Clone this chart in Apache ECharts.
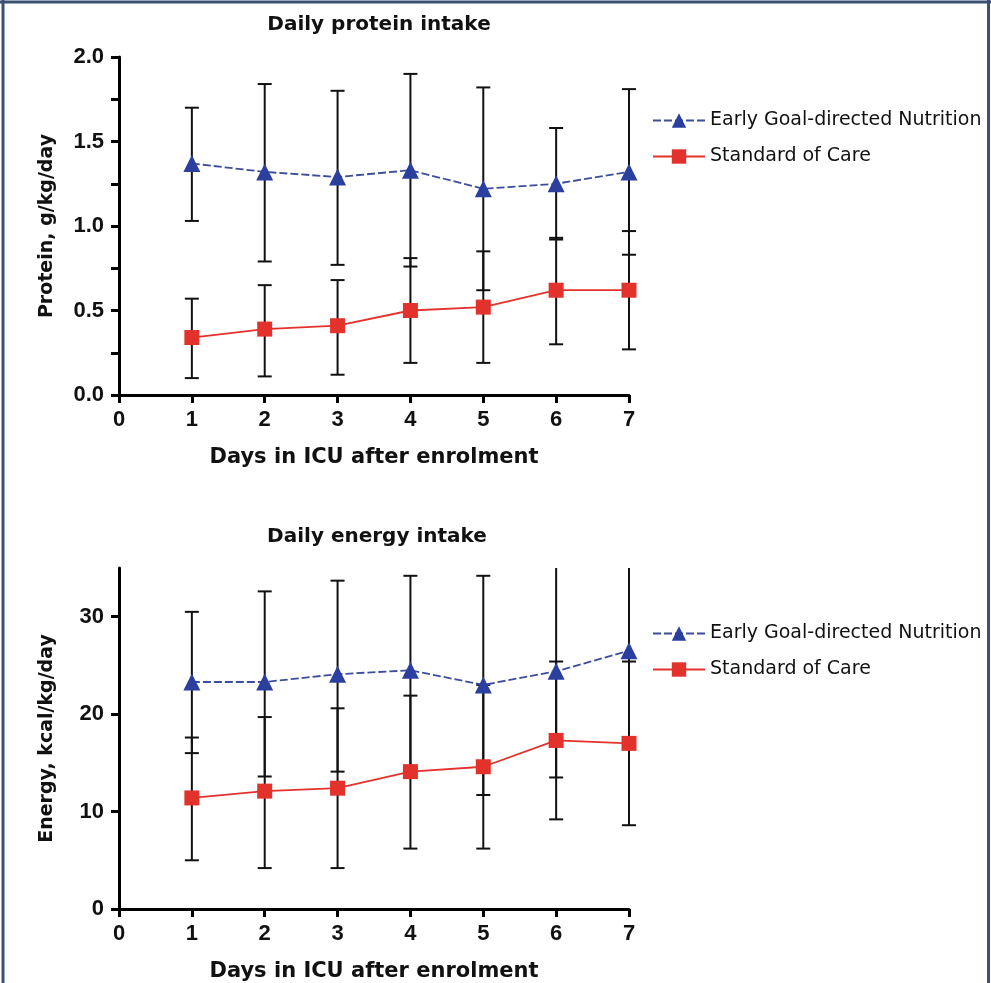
<!DOCTYPE html>
<html><head><meta charset="utf-8">
<script src="https://cdn.jsdelivr.net/npm/echarts@6/dist/echarts.min.js"></script>
<style>html,body{margin:0;padding:0;background:#fff}#c{width:991px;height:983px}</style>
</head><body><div id="c"></div>
<script>
const days = [1, 2, 3, 4, 5, 6, 7];
const xTicks = [0, 1, 2, 3, 4, 5, 6, 7];
const seriesNames = ['Early Goal-directed Nutrition', 'Standard of Care'];

const proteinEgdnMean = [1.37, 1.32, 1.29, 1.33, 1.22, 1.25, 1.32];
const proteinEgdnLow  = [1.03, 0.79, 0.77, 0.76, 0.62, 0.92, 0.83];
const proteinEgdnHigh = [1.70, 1.84, 1.80, 1.90, 1.82, 1.58, 1.81];
const proteinSocMean  = [0.34, 0.39, 0.41, 0.50, 0.52, 0.62, 0.62];
const proteinSocLow   = [0.10, 0.11, 0.12, 0.19, 0.19, 0.30, 0.27];
const proteinSocHigh  = [0.57, 0.65, 0.68, 0.81, 0.85, 0.93, 0.97];

const energyEgdnMean = [23.3, 23.3, 24.1, 24.5, 23.0, 24.4, 26.5];
const energyEgdnLow  = [16.0, 13.6, 14.1, 14.5, 11.7, 13.5, 17.3];
const energyEgdnHigh = [30.5, 32.6, 33.7, 34.2, 34.2, 35.3, 35.7];
const energySocMean  = [11.4, 12.1, 12.4, 14.1, 14.6, 17.3, 17.0];
const energySocLow   = [5.0, 4.2, 4.2, 6.2, 6.2, 9.2, 8.6];
const energySocHigh  = [17.6, 19.7, 20.6, 21.9, 23.0, 25.4, 25.4];

const WIDE = '"DejaVu Sans", Verdana, sans-serif';
const SANS = '"Liberation Sans", Arial, sans-serif';
const BLUE = '#2b3f9f';
const BLUE_LINE = '#3c4d9e';
const RED = '#e3312b';

function pts(xs, ys) { return xs.map((x, i) => [x, ys[i]]); }
function bars(xs, lo, hi) { return xs.map((x, i) => [x, lo[i], hi[i]]); }

function errSeries(idx, data) {
  return {
    type: 'custom', xAxisIndex: idx, yAxisIndex: idx, clip: false, z: 2, silent: true,
    data: data,
    encode: { x: 0, y: [1, 2] },
    renderItem: function (params, api) {
      const cs = params.coordSys;
      const x = api.value(0);
      const lo = api.coord([x, api.value(1)]);
      const hi = api.coord([x, api.value(2)]);
      const top = cs.y, bottom = cs.y + cs.height;
      const w = 7;
      const st = { stroke: '#111', lineWidth: 2 };
      const yHi = Math.max(top, hi[1]);
      const yLo = Math.min(bottom, lo[1]);
      const kids = [
        { type: 'line', shape: { x1: lo[0], y1: yLo, x2: hi[0], y2: yHi }, style: st }
      ];
      if (lo[1] <= bottom) kids.push({ type: 'line', shape: { x1: lo[0] - w, y1: lo[1], x2: lo[0] + w, y2: lo[1] }, style: st });
      if (hi[1] >= top) kids.push({ type: 'line', shape: { x1: hi[0] - w, y1: hi[1], x2: hi[0] + w, y2: hi[1] }, style: st });
      return { type: 'group', children: kids };
    }
  };
}

function egdn(idx, ys) {
  return {
    name: seriesNames[0], type: 'line', xAxisIndex: idx, yAxisIndex: idx, z: 5,
    data: pts(days, ys), symbol: 'triangle', symbolSize: 17,
    itemStyle: { color: BLUE },
    lineStyle: { color: BLUE_LINE, width: 1.8, type: [8, 3] },
    emphasis: { disabled: true }, animation: false
  };
}
function soc(idx, ys) {
  return {
    name: seriesNames[1], type: 'line', xAxisIndex: idx, yAxisIndex: idx, z: 5,
    data: pts(days, ys), symbol: 'rect', symbolSize: 15,
    itemStyle: { color: RED },
    lineStyle: { color: RED, width: 1.8 },
    emphasis: { disabled: true }, animation: false
  };
}

const axisLine = { show: true, onZero: false, lineStyle: { color: '#000', width: 3 } };
const axisTick = { show: true, inside: false, length: 8, lineStyle: { color: '#000', width: 3 } };
const labelStyle = { color: '#111', fontFamily: SANS, fontWeight: 'bold', fontSize: 22 };
const nameStyle = { color: '#111', fontFamily: WIDE, fontWeight: 'bold', fontSize: 21 };
const yNameStyle = { color: '#111', fontFamily: WIDE, fontWeight: 'bold', fontSize: 19 };
const titleStyle = { fontFamily: WIDE, fontWeight: 'bold', fontSize: 20, color: '#111' };
const legendText = { fontFamily: WIDE, fontSize: 19, color: '#111' };

function xAxis(idx, gap) {
  return {
    type: 'value', gridIndex: idx, min: xTicks[0], max: xTicks[xTicks.length - 1], interval: 1,
    axisLine, axisTick, splitLine: { show: false },
    axisLabel: Object.assign({ margin: 14 }, labelStyle),
    name: 'Days in ICU after enrolment', nameLocation: 'middle', nameGap: gap, nameTextStyle: nameStyle
  };
}

const option = {
  animation: false,
  backgroundColor: '#fff',
  title: [
    { text: 'Daily protein intake', left: 374, top: 10, textAlign: 'center', textStyle: titleStyle },
    { text: 'Daily energy intake', left: 372, top: 522, textAlign: 'center', textStyle: titleStyle }
  ],
  grid: [
    { left: 119, width: 510, top: 57, height: 338 },
    { left: 119, width: 510, top: 568, height: 342 }
  ],
  legend: [
    { data: seriesNames, orient: 'vertical', left: 647, top: 106, itemWidth: 52, itemHeight: 18, itemGap: 17,
      textStyle: legendText },
    { data: seriesNames, orient: 'vertical', left: 647, top: 619, itemWidth: 52, itemHeight: 18, itemGap: 17,
      textStyle: legendText }
  ],
  xAxis: [xAxis(0, 52), xAxis(1, 52)],
  yAxis: [
    { type: 'value', gridIndex: 0, min: 0, max: 2, interval: 0.5,
      axisLine, axisTick, splitLine: { show: false },
      minorTick: { show: true, splitNumber: 2, length: 8, lineStyle: { color: '#000', width: 3 } },
      axisLabel: Object.assign({ margin: 15, formatter: v => v.toFixed(1) }, labelStyle),
      name: 'Protein, g/kg/day', nameLocation: 'middle', nameGap: 62, nameTextStyle: yNameStyle },
    { type: 'value', gridIndex: 1, min: 0, max: 35, interval: 10,
      axisLine, axisTick, splitLine: { show: false },
      axisLabel: Object.assign({ margin: 15, showMaxLabel: false }, labelStyle),
      name: 'Energy, kcal/kg/day', nameLocation: 'middle', nameGap: 62, nameTextStyle: yNameStyle }
  ],
  series: [
    errSeries(0, bars(days, proteinEgdnLow, proteinEgdnHigh)),
    errSeries(0, bars(days, proteinSocLow, proteinSocHigh)),
    egdn(0, proteinEgdnMean),
    soc(0, proteinSocMean),
    errSeries(1, bars(days, energyEgdnLow, energyEgdnHigh)),
    errSeries(1, bars(days, energySocLow, energySocHigh)),
    egdn(1, energyEgdnMean),
    soc(1, energySocMean)
  ],
  graphic: [
    { type: 'line', shape: { x1: 3, y1: 0, x2: 3, y2: 983 }, style: { stroke: '#3a5274', lineWidth: 3 } },
    { type: 'line', shape: { x1: 0, y1: 2, x2: 991, y2: 2 }, style: { stroke: '#3a5274', lineWidth: 3 } },
    { type: 'line', shape: { x1: 988.5, y1: 0, x2: 988.5, y2: 983 }, style: { stroke: '#3a5274', lineWidth: 3 } }
  ]
};

const chart = echarts.init(document.getElementById('c'), null, { renderer: 'canvas' });
chart.setOption(option);
</script></body></html>
